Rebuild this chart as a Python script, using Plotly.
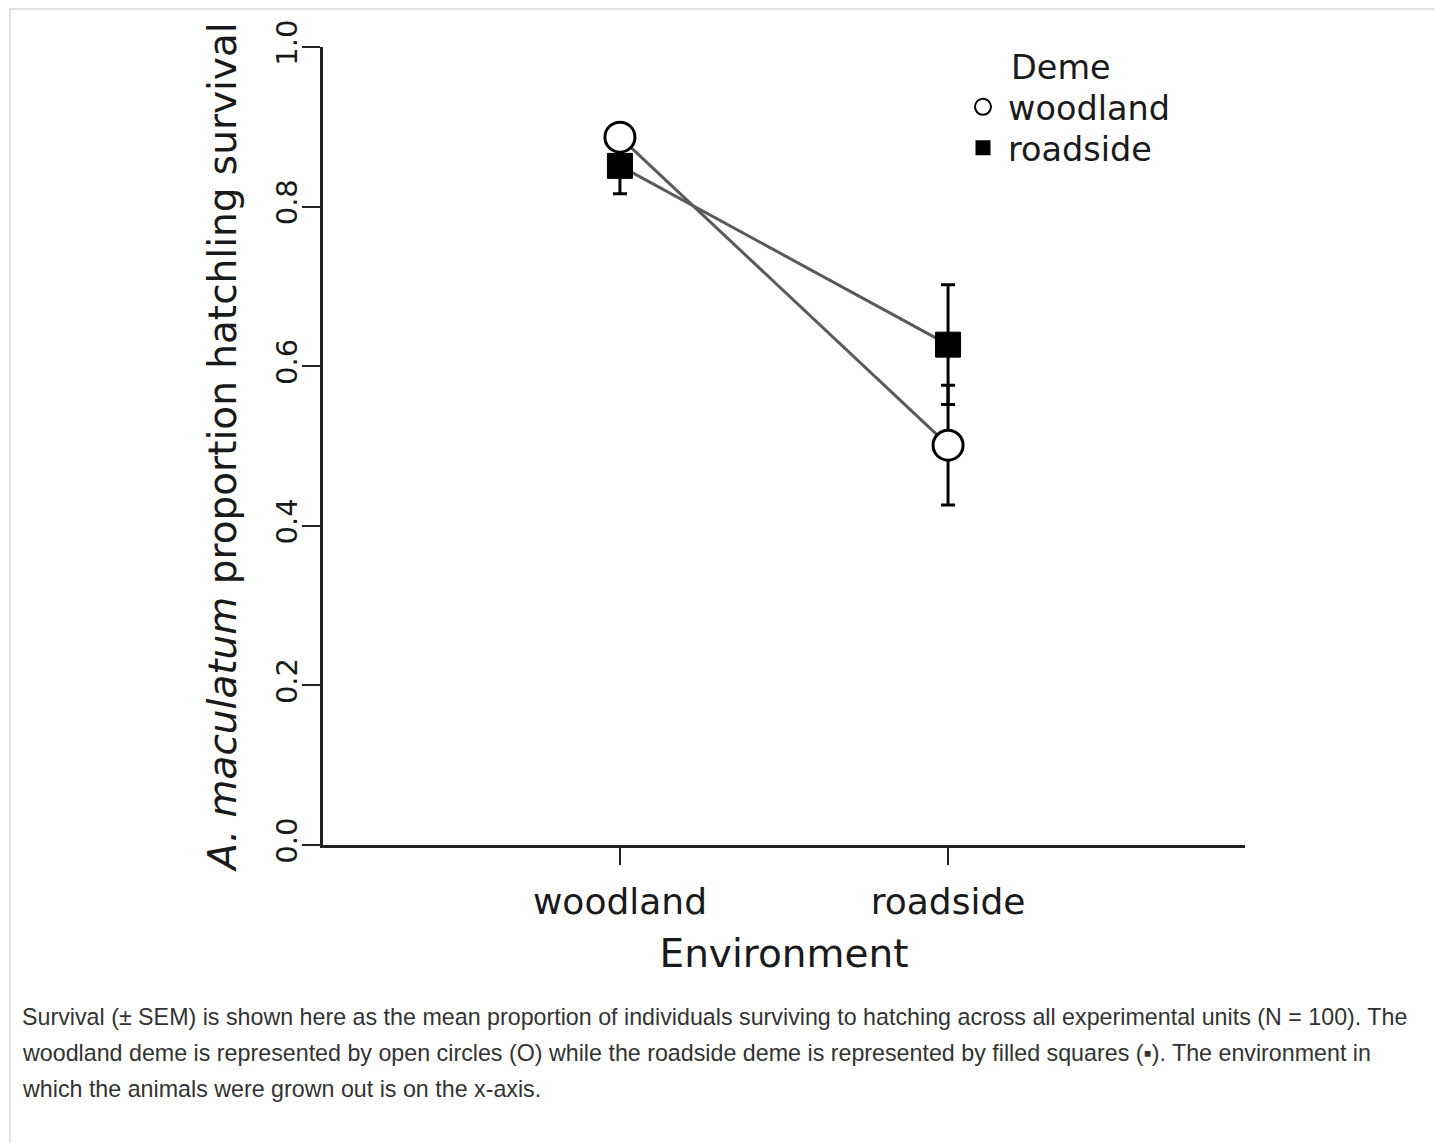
import plotly.graph_objects as go

environments = ["woodland", "roadside"]
woodland_deme_mean = [0.887, 0.501]
woodland_deme_sem = [0.010, 0.075]
roadside_deme_mean = [0.851, 0.627]
roadside_deme_sem = [0.035, 0.075]
y_ticks = [0.0, 0.2, 0.4, 0.6, 0.8, 1.0]

caption_lines = [
    "Survival (± SEM) is shown here as the mean proportion of individuals surviving to hatching across all experimental units (N = 100). The",
    "woodland deme is represented by open circles (O) while the roadside deme is represented by filled squares (\u25aa). The environment in",
    "which the animals were grown out is on the x-axis.",
]

FONT = "DejaVu Sans"
OFF = 8  # page body margin
W, H = 1442 - OFF, 1143 - OFF
L, R, T, B = 323 - OFF, 1245 - OFF, 47 - OFF, 845 - OFF
PW, PH = R - L, B - T


def px(x):
    return (x - OFF - L) / PW


def py(y):
    return (B - (y - OFF)) / PH


fig = go.Figure()

# connecting lines
for ys in (woodland_deme_mean, roadside_deme_mean):
    fig.add_trace(go.Scatter(
        x=environments, y=ys, mode="lines",
        line=dict(color="#5a5a5a", width=3),
        showlegend=False, hoverinfo="skip"))

# roadside deme: filled squares
fig.add_trace(go.Scatter(
    x=environments, y=roadside_deme_mean, mode="markers",
    marker=dict(symbol="square", size=25, color="black",
                line=dict(color="black", width=1)),
    error_y=dict(type="data", array=roadside_deme_sem, color="black",
                 thickness=3, width=7),
    showlegend=False, name="roadside"))

# woodland deme: open circles
fig.add_trace(go.Scatter(
    x=environments, y=woodland_deme_mean, mode="markers",
    marker=dict(symbol="circle", size=30, color="white",
                line=dict(color="black", width=3)),
    error_y=dict(type="data", array=woodland_deme_sem, color="black",
                 thickness=3, width=7),
    showlegend=False, name="woodland"))

# legend entries (one legend per item for exact spacing)
fig.add_trace(go.Scatter(
    x=[None], y=[None], mode="markers", name="woodland", legend="legend",
    marker=dict(symbol="circle", size=16, color="white",
                line=dict(color="black", width=2))))
fig.add_trace(go.Scatter(
    x=[None], y=[None], mode="markers", name="roadside", legend="legend2",
    marker=dict(symbol="square", size=15, color="black")))

legend_font = dict(family=FONT, size=33.5, color="#1a1a1a")
leg_common = dict(xanchor="left", yanchor="middle", bgcolor="rgba(0,0,0,0)",
                  borderwidth=0, font=legend_font, itemwidth=40)

annotations = [dict(
    text="Deme", xref="paper", yref="paper", x=px(1009), y=py(68),
    xanchor="left", yanchor="middle", showarrow=False, font=legend_font)]

cap_y = [1017, 1053, 1089]
for line, yy in zip(caption_lines, cap_y):
    annotations.append(dict(
        text=line, xref="paper", yref="paper", x=px(20), y=py(yy),
        xanchor="left", yanchor="middle", showarrow=False,
        font=dict(family="Liberation Sans", size=23.25, color="#333333")))

fig.update_layout(
    width=W, height=H,
    margin=dict(l=L, r=W - R, t=T, b=H - B, pad=0),
    paper_bgcolor="white", plot_bgcolor="white",
    font=dict(family=FONT, color="#1a1a1a"),
    xaxis=dict(
        type="category", categoryorder="array", categoryarray=environments,
        range=[-0.905, 1.905],
        showline=True, linecolor="#222222", linewidth=2.5,
        ticks="outside", ticklen=17, tickwidth=2, tickcolor="#222222",
        showgrid=False, zeroline=False, ticklabelstandoff=6,
        tickfont=dict(family=FONT, size=36, color="#1a1a1a"),
        title=dict(text="Environment", font=dict(family=FONT, size=39, color="#1a1a1a"),
                   standoff=19),
    ),
    yaxis=dict(
        range=[0, 1], tickvals=y_ticks, tickformat=".1f", tickangle=-90,
        showline=True, linecolor="#222222", linewidth=2.5,
        ticks="outside", ticklen=18, tickwidth=2, tickcolor="#222222",
        showgrid=False, zeroline=False, ticklabelstandoff=-6,
        tickfont=dict(family=FONT, size=29, color="#1a1a1a"),
        title=dict(text="<i>A. maculatum</i> proportion hatchling survival",
                   font=dict(family=FONT, size=39, color="#1a1a1a"), standoff=22),
    ),
    legend=dict(x=px(958), y=py(107), **leg_common),
    legend2=dict(x=px(958), y=py(148), **leg_common),
    annotations=annotations,
    shapes=[dict(type="rect", xref="paper", yref="paper",
                 x0=px(10), x1=px(1437), y0=py(1170), y1=py(9),
                 line=dict(color="#e3e3e3", width=2), fillcolor="rgba(0,0,0,0)",
                 layer="below")],
)

fig.write_html("out.html")
